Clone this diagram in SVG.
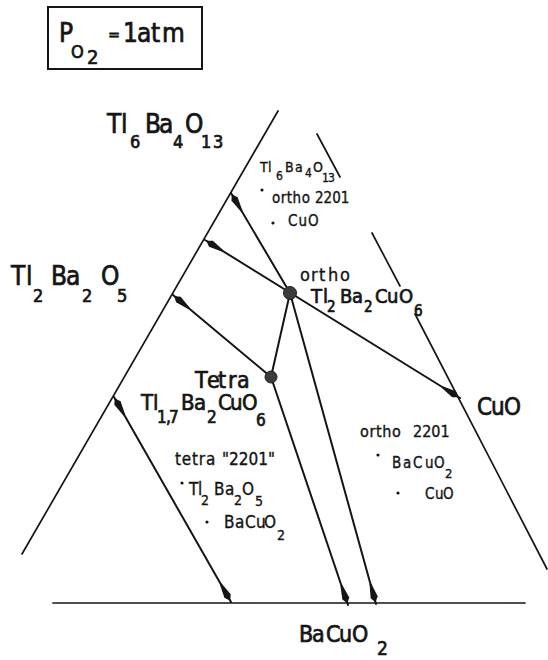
<svg xmlns="http://www.w3.org/2000/svg" width="548" height="660" viewBox="0 0 548 660">
<style>
text{font-family:"DejaVu Sans Condensed","DejaVu Sans",sans-serif;fill:#151515;stroke:#151515;stroke-width:0.35}
text.big{stroke-width:0.7}
.frame{fill:none;stroke:#151515;stroke-width:1.7;stroke-linecap:round}
.arrow{fill:none;stroke:#151515;stroke-width:2;stroke-linecap:round}
.pt{fill:#3c3c3c;stroke:#202020;stroke-width:1}
.dot{fill:#151515}
</style>
<defs>
<marker id="arr" markerUnits="userSpaceOnUse" markerWidth="26" markerHeight="10" viewBox="-24 -5 26 10" refX="0" refY="0" orient="auto-start-reverse">
<path d="M-1.5,0 L-7,-3.6 L-21,-0.9 L-21,0.9 L-7,3.6 Z" fill="#151515"/>
</marker>
</defs>
<rect x="48" y="7" width="154" height="62" fill="none" stroke="#151515" stroke-width="2"/>
<g id="label-po2">
<text class="big" font-size="26"><tspan x="59" y="42">P</tspan><tspan x="71" y="58" font-size="18">O</tspan><tspan x="87" y="64" font-size="20">2</tspan><tspan x="108" y="40" font-size="16">=</tspan><tspan x="123 137 151 162" y="42">1atm</tspan></text>
</g>
<g id="frame">
<line class="frame" x1="278" y1="111" x2="22" y2="554"/>
<line class="frame" x1="372" y1="233" x2="400" y2="286"/>
<line class="frame" x1="415" y1="314" x2="547" y2="569"/>
<line class="frame" x1="317" y1="134" x2="340" y2="177"/>
<line class="frame" x1="53" y1="603" x2="525" y2="603"/>
</g>
<g id="connectors">
<line class="arrow" x1="290" y1="293" x2="231" y2="193" marker-end="url(#arr)"/>
<line class="arrow" x1="205" y1="240" x2="460" y2="398" marker-start="url(#arr)" marker-end="url(#arr)"/>
<line class="arrow" x1="271" y1="377" x2="173" y2="295" marker-end="url(#arr)"/>
<line class="arrow" x1="290" y1="293" x2="271" y2="377"/>
<line class="arrow" x1="290" y1="293" x2="376" y2="604" marker-end="url(#arr)"/>
<line class="arrow" x1="271" y1="377" x2="348" y2="605" marker-end="url(#arr)"/>
<line class="arrow" x1="114" y1="397" x2="231" y2="602" marker-start="url(#arr)" marker-end="url(#arr)"/>
</g>
<g id="node-tl6ba4o13">
<text class="big" font-size="26"><tspan x="107 121" y="133">Tl</tspan><tspan x="130" y="148" font-size="18">6</tspan><tspan x="145 159" y="133">Ba</tspan><tspan x="173" y="148" font-size="18">4</tspan><tspan x="185" y="133">O</tspan><tspan x="201 213" y="148" font-size="18">13</tspan></text>
</g>
<g id="node-tl2ba2o5">
<text class="big" font-size="26"><tspan x="11 26" y="285">Tl</tspan><tspan x="33" y="302" font-size="18">2</tspan><tspan x="51 66" y="285">Ba</tspan><tspan x="82" y="302" font-size="18">2</tspan><tspan x="101" y="285">O</tspan><tspan x="117" y="302" font-size="18">5</tspan></text>
</g>
<g id="node-ortho">
<circle class="pt" cx="290" cy="293" r="6.5"/>
<text font-size="18"><tspan x="300 311 319 328 340" y="281">ortho</tspan></text>
<text class="big" font-size="20"><tspan x="311 323" y="303">Tl</tspan><tspan x="327" y="312" font-size="15">2</tspan><tspan x="340 352" y="303">Ba</tspan><tspan x="364" y="312" font-size="15">2</tspan><tspan x="375 387 399" y="303">CuO</tspan><tspan x="414" y="316" font-size="15">6</tspan></text>
</g>
<g id="node-tetra">
<circle class="pt" cx="271" cy="377" r="6"/>
<text class="big" font-size="23"><tspan x="195 207 218 228 237" y="388">Tetra</tspan></text>
<text class="big" font-size="22"><tspan x="141 153" y="410">Tl</tspan><tspan x="157 166 169" y="423" font-size="17">1,7</tspan><tspan x="181 194" y="410">Ba</tspan><tspan x="207" y="423" font-size="17">2</tspan><tspan x="218 230 242" y="410">CuO</tspan><tspan x="256" y="426" font-size="17">6</tspan></text>
</g>
<g id="node-cuo">
<text class="big" font-size="24"><tspan x="477 491 504" y="415">CuO</tspan></text>
</g>
<g id="node-bacuo2">
<text class="big" font-size="23"><tspan x="299 312 326 339 352" y="642">BaCuO</tspan><tspan x="377" y="655" font-size="19">2</tspan></text>
</g>
<g id="region-top">
<text font-size="14"><tspan x="260 268" y="172">Tl</tspan><tspan x="276" y="180" font-size="12">6</tspan><tspan x="285 295" y="172">Ba</tspan><tspan x="305" y="177" font-size="12">4</tspan><tspan x="313" y="172">O</tspan><tspan x="322 328" y="182" font-size="12">13</tspan></text>
<circle class="dot" cx="262" cy="190" r="1.6"/>
<text font-size="15"><tspan x="272" y="203" letter-spacing="0.5">ortho</tspan><tspan x="315" y="203">2201</tspan></text>
<circle class="dot" cx="273" cy="223" r="1.6"/>
<text font-size="15" letter-spacing="1"><tspan x="288" y="226">CuO</tspan></text>
</g>
<g id="region-left">
<text font-size="17"><tspan x="175" y="465" letter-spacing="0.8">tetra</tspan><tspan x="222" y="465">"2201"</tspan></text>
<circle class="dot" cx="182" cy="483" r="1.6"/>
<text font-size="17"><tspan x="189 198" y="495">Tl</tspan><tspan x="201" y="505" font-size="14">2</tspan><tspan x="214 225" y="495">Ba</tspan><tspan x="234" y="505" font-size="14">2</tspan><tspan x="242" y="495">O</tspan><tspan x="255" y="506" font-size="14">5</tspan></text>
<circle class="dot" cx="207" cy="522" r="1.6"/>
<text font-size="17"><tspan x="224 235 245 256 264" y="528">BaCuO</tspan><tspan x="277" y="540" font-size="14">2</tspan></text>
</g>
<g id="region-right">
<text font-size="16"><tspan x="360" y="437" letter-spacing="0.6">ortho</tspan><tspan x="413" y="437">2201</tspan></text>
<circle class="dot" cx="378" cy="455" r="1.6"/>
<text font-size="15"><tspan x="392 403 413 425 434" y="468">BaCuO</tspan><tspan x="445" y="478" font-size="13">2</tspan></text>
<circle class="dot" cx="398" cy="493" r="1.6"/>
<text font-size="15"><tspan x="425 435 443" y="499">CuO</tspan></text>
</g>
</svg>
